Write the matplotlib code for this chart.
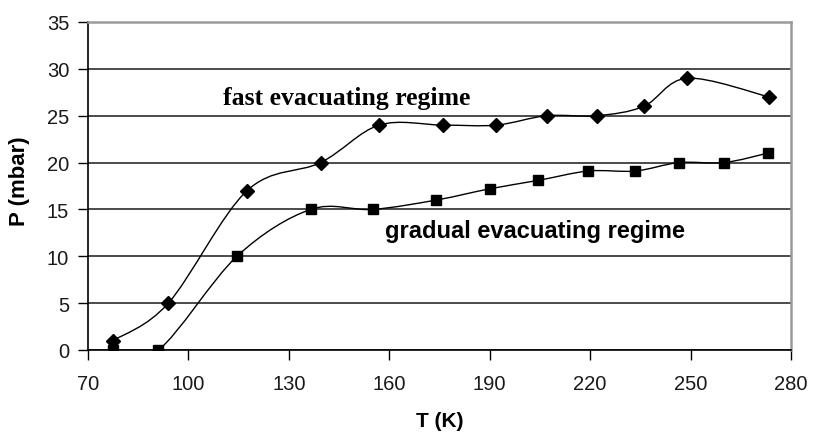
import numpy as np
import matplotlib
matplotlib.use('Agg')
import matplotlib.pyplot as plt
from matplotlib.path import Path
from matplotlib.patches import PathPatch

# Data
fast_T = [77.5, 94, 117.5, 139.5, 157, 176, 192, 207, 222, 236, 249, 273.5]
fast_P = [1, 5, 17, 20, 24, 24, 24, 25, 25, 26, 29, 27]
grad_T = [77.5, 91, 114.5, 136.5, 155, 174, 190, 204.5, 219.5, 233.5, 246.5, 260, 273]
grad_P = [0, 0, 10, 15, 15, 16, 17.2, 18.1, 19.1, 19.1, 20, 20, 21]

x_ticks = [70, 100, 130, 160, 190, 220, 250, 280]
y_ticks = [0, 5, 10, 15, 20, 25, 30, 35]
fast_label = "fast evacuating regime"
grad_label = "gradual evacuating regime"
x_label = "T (K)"
y_label = "P (mbar)"


def smooth_path(x, y):
    """Excel-like smoothed line: cubic Bezier through points (Catmull-Rom tangents)."""
    pts = np.column_stack([x, y]).astype(float)
    n = len(pts)
    verts = [pts[0]]
    codes = [Path.MOVETO]
    for i in range(n - 1):
        p0 = pts[i - 1] if i > 0 else pts[i]
        p1 = pts[i]
        p2 = pts[i + 1]
        p3 = pts[i + 2] if i + 2 < n else pts[i + 1]
        c1 = p1 + (p2 - p0) / 6.0
        c2 = p2 - (p3 - p1) / 6.0
        verts += [c1, c2, p2]
        codes += [Path.CURVE4] * 3
    return Path(verts, codes)


fig = plt.figure(figsize=(8.14, 4.35), dpi=100)
ax = fig.add_axes([88 / 814, 84 / 435, 703 / 814, 328 / 435])

ax.set_xlim(70, 280)
ax.set_ylim(0, 35)

# grid
for yv in y_ticks:
    ax.axhline(yv, color='#1a1a1a', lw=1.1, zorder=1)

for xs, ys, mk, ms in [(fast_T, fast_P, 'D', 7.0), (grad_T, grad_P, 's', 6.5)]:
    patch = PathPatch(smooth_path(xs, ys), fill=False, edgecolor='black', lw=1.0, zorder=3)
    ax.add_patch(patch)
    ax.plot(xs, ys, linestyle='none', marker=mk, markersize=ms, color='black', zorder=4)

ax.set_xticks(x_ticks)
ax.set_yticks(y_ticks)
ax.tick_params(direction='out', length=7, width=1, color='black', labelsize=14.5,
               labelcolor='#1a1a1a')
ax.tick_params(axis='x', pad=10.5)
ax.tick_params(axis='y', pad=6.5)
for lab in ax.get_xticklabels() + ax.get_yticklabels():
    lab.set_fontfamily('Liberation Sans')

ax.spines['left'].set_color('black')
ax.spines['bottom'].set_color('black')
ax.spines['left'].set_linewidth(1.2)
ax.spines['bottom'].set_linewidth(1.2)
ax.spines['top'].set_color('#9a9a9a')
ax.spines['right'].set_color('#9a9a9a')
ax.spines['top'].set_linewidth(1.8)
ax.spines['right'].set_linewidth(1.8)
for s in ax.spines.values():
    s.set_zorder(5)

ax.set_xlabel(x_label, fontsize=15, fontweight='bold', family='Liberation Sans')
ax.set_ylabel(y_label, fontsize=16, fontweight='bold', family='Liberation Sans')
ax.xaxis.set_label_coords(0.5007, -0.186)
ax.yaxis.set_label_coords(-0.082, 0.518)

ax.text(110.3, 26.25, fast_label, fontsize=18.5, fontweight='bold', family='Liberation Serif',
        ha='left', va='baseline', zorder=6)
ax.text(158.7, 12.06, grad_label, fontsize=17, fontweight='bold', family='Liberation Sans',
        ha='left', va='baseline', zorder=6)

fig.savefig('out.png', dpi=100)
